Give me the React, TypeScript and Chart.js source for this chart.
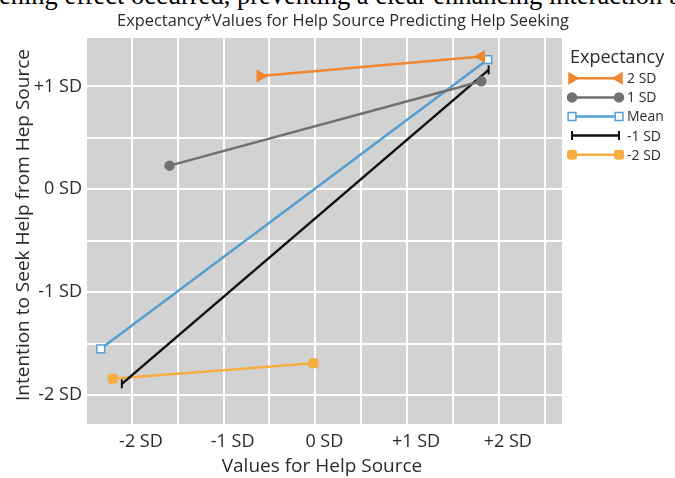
import React, { useEffect, useRef } from 'react';
import { Chart, registerables } from 'chart.js';
import { drawPoint } from 'chart.js/helpers';

Chart.register(...registerables);

// ---- data ----
const seriesNames = ['2 SD', '1 SD', 'Mean', '-1 SD', '-2 SD'];
const seriesColors = ['#f0862f', '#707070', '#559fd3', '#111111', '#f6ad42'];

const x2SD = [-0.6, 1.81];
const y2SD = [1.1, 1.29];
const x1SD = [-1.59, 1.81];
const y1SD = [0.23, 1.05];
const xMean = [-2.34, 1.88];
const yMean = [-1.55, 1.26];
const xMinus1SD = [-2.11, 1.89];
const yMinus1SD = [-1.89, 1.16];
const xMinus2SD = [-2.21, -0.02];
const yMinus2SD = [-1.84, -1.69];

const xTickValues = [-2, -1.5, -1, -0.5, 0, 0.5, 1, 1.5, 2, 2.5];
const yTickValues = [-2, -1.5, -1, -0.5, 0, 0.5, 1];

const chartTitle = 'Expectancy*Values for Help Source Predicting Help Seeking';
const xTitle = 'Values for Help Source';
const yTitle = 'Intention to Seek Help from Hep Source';
const legendTitle = 'Expectancy';
const topText = 'ening effect occurred, preventing a clear enhancing interaction b';

const FONT = "'Open Sans', sans-serif";

const sdLabel = (v: number) => (Number.isInteger(v) ? (v > 0 ? `+${v} SD` : `${v} SD`) : '');

const pts = (xs: number[], ys: number[]) => xs.map((x, i) => ({ x, y: ys[i] }));

const seriesStyles = [
  { pointStyle: 'triangle', rotation: [90, -90], radius: 6, fill: true },
  { pointStyle: 'circle', rotation: [0, 0], radius: 4.5, fill: true },
  { pointStyle: 'rect', rotation: [0, 0], radius: 5.5, fill: false },
  { pointStyle: 'line', rotation: [90, 90], radius: 4.5, fill: true },
  { pointStyle: 'rectRounded', rotation: [0, 0], radius: 5, fill: true },
];

const seriesData = [
  pts(x2SD, y2SD),
  pts(x1SD, y1SD),
  pts(xMean, yMean),
  pts(xMinus1SD, yMinus1SD),
  pts(xMinus2SD, yMinus2SD),
];

const decorPlugin = {
  id: 'decor',
  beforeDraw(chart: any) {
    const { ctx, chartArea } = chart;
    ctx.save();
    ctx.fillStyle = '#d2d2d2';
    ctx.fillRect(chartArea.left, chartArea.top, chartArea.right - chartArea.left, chartArea.bottom - chartArea.top);
    ctx.restore();
  },
  afterDraw(chart: any) {
    const { ctx } = chart;
    ctx.save();
    ctx.fillStyle = '#2b2b2b';
    ctx.textAlign = 'center';
    ctx.textBaseline = 'middle';
    ctx.font = `16.4px ${FONT}`;
    ctx.fillText(chartTitle, 343, 21);
    ctx.font = `19px ${FONT}`;
    ctx.fillText(xTitle, 322, 467);
    ctx.save();
    ctx.translate(24, 225);
    ctx.rotate(-Math.PI / 2);
    ctx.fillText(yTitle, 0, 0);
    ctx.restore();

    // legend
    ctx.textAlign = 'left';
    ctx.font = `18px ${FONT}`;
    ctx.fillText(legendTitle, 570, 58);
    ctx.font = `14px ${FONT}`;
    seriesNames.forEach((name, i) => {
      const y = 78.3 + i * 19.1;
      const st = seriesStyles[i];
      const color = seriesColors[i];
      ctx.strokeStyle = color;
      ctx.lineWidth = 2.5;
      ctx.beginPath();
      ctx.moveTo(572, y);
      ctx.lineTo(619, y);
      ctx.stroke();
      [572, 619].forEach((px, j) => {
        ctx.fillStyle = st.fill ? color : '#ffffff';
        ctx.strokeStyle = color;
        ctx.lineWidth = st.pointStyle === 'line' ? 2 : 1.5;
        drawPoint(ctx, { pointStyle: st.pointStyle, rotation: st.rotation[j], radius: st.radius, borderWidth: ctx.lineWidth } as any, px, y);
      });
      ctx.fillStyle = '#2b2b2b';
      ctx.fillText(name, 627, y + 1);
    });
    ctx.restore();
  },
};

export default function App() {
  const canvasRef = useRef<HTMLCanvasElement>(null);

  useEffect(() => {
    if (!canvasRef.current) return;
    const chart = new Chart(canvasRef.current, {
      type: 'scatter',
      data: {
        datasets: seriesData.map((data, i) => ({
          label: seriesNames[i],
          data,
          showLine: true,
          borderColor: seriesColors[i],
          backgroundColor: seriesStyles[i].fill ? seriesColors[i] : '#ffffff',
          pointBorderColor: seriesColors[i],
          pointBackgroundColor: seriesStyles[i].fill ? seriesColors[i] : '#ffffff',
          borderWidth: 2.5,
          pointBorderWidth: seriesStyles[i].pointStyle === 'line' ? 2 : 1.5,
          pointStyle: seriesStyles[i].pointStyle as any,
          pointRotation: seriesStyles[i].rotation,
          pointRadius: seriesStyles[i].radius,
        })),
      },
      options: {
        animation: false,
        responsive: false,
        layout: { padding: { top: 38, right: 113, left: 0, bottom: 0 } },
        plugins: { legend: { display: false }, title: { display: false }, tooltip: { enabled: false } },
        scales: {
          x: {
            type: 'linear',
            min: -2.49,
            max: 2.69,
            afterBuildTicks: (scale: any) => {
              scale.ticks = xTickValues.map((v) => ({ value: v }));
            },
            afterFit: (scale: any) => {
              scale.height = 54;
            },
            border: { display: false },
            grid: { color: '#ffffff', lineWidth: 2, drawTicks: false },
            ticks: {
              padding: 7,
              labelOffset: 9,
              autoSkip: false,
              maxRotation: 0,
              color: '#2b2b2b',
              font: { family: FONT, size: 18 },
              callback: (v: any) => sdLabel(Number(v)),
            },
          },
          y: {
            type: 'linear',
            min: -2.28,
            max: 1.47,
            afterBuildTicks: (scale: any) => {
              scale.ticks = yTickValues.map((v) => ({ value: v }));
            },
            afterFit: (scale: any) => {
              scale.width = 87;
            },
            border: { display: false },
            grid: { color: '#ffffff', lineWidth: 2, drawTicks: false },
            ticks: {
              padding: 5,
              autoSkip: false,
              color: '#2b2b2b',
              font: { family: FONT, size: 18 },
              callback: (v: any) => sdLabel(Number(v)),
            },
          },
        },
      },
      plugins: [decorPlugin],
    });
    return () => chart.destroy();
  }, []);

  return (
    <div style={{ position: 'fixed', left: 0, top: 0, width: 675, height: 478, background: '#ffffff', overflow: 'hidden' }}>
      <div
        style={{
          position: 'absolute',
          left: -1,
          top: -16,
          fontFamily: "'Liberation Serif', serif",
          fontSize: 26.5,
          lineHeight: '22px',
          whiteSpace: 'nowrap',
          color: '#000',
        }}
      >
        {topText}
      </div>
      <canvas ref={canvasRef} width={675} height={478} style={{ position: 'absolute', left: 0, top: 0 }} />
    </div>
  );
}
